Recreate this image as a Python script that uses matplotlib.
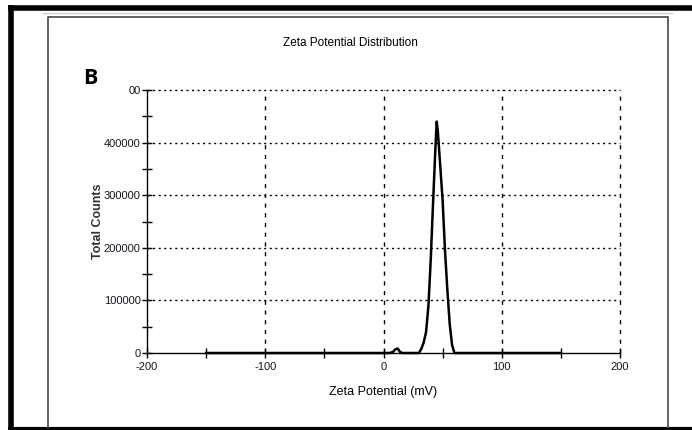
"""Zeta potential distribution (panel B)"""

import matplotlib.pyplot as plt
from matplotlib.lines import Line2D
from matplotlib.ticker import MultipleLocator
import numpy as np

# values
zeta_mv = [-150, 5, 8, 10, 12, 14, 16, 30, 32, 34, 36, 38, 40, 42, 44, 45,
           46, 48, 50, 52, 54, 56, 58, 60, 150]
counts = [0, 0, 2000, 7000, 8500, 2000, 0, 0, 8000, 20000, 40000, 90000,
          180000, 290000, 395000, 440000, 420000, 355000, 290000, 195000,
          120000, 55000, 15000, 0, 0]
x_ticks = [-200, -100, 0, 100, 200]
y_ticks = [0, 100000, 200000, 300000, 400000, 500000]
y_tick_labels = ["0", "100000", "200000", "300000", "400000", "00"]

narrow = ["Liberation Sans Narrow", "Liberation Sans", "DejaVu Sans"]
W, H = 692, 430

fig = plt.figure(figsize=(W / 100, H / 100), dpi=100)
ax = fig.add_axes([147 / W, 1 - 353 / H, (620 - 147) / W, (353 - 90) / H])

ax.plot(zeta_mv, counts, color="black", lw=1.8, clip_on=False, zorder=5)

ax.set_xlim(-200, 200)
ax.set_ylim(0, 500000)
ax.set_xticks(x_ticks)
ax.set_xticklabels([str(v) for v in x_ticks], family=narrow, fontsize=8)
ax.set_yticks(y_ticks)
ax.set_yticklabels(y_tick_labels, family=narrow, fontsize=8)
ax.xaxis.set_minor_locator(MultipleLocator(50))
ax.yaxis.set_minor_locator(MultipleLocator(50000))
ax.tick_params(which="both", direction="inout", length=7, width=1,
               color="black", labelcolor="#151525")
ax.tick_params(axis="x", pad=3)
ax.tick_params(axis="y", pad=1)

for s in ["top", "right"]:
    ax.spines[s].set_visible(False)
for s in ["left", "bottom"]:
    ax.spines[s].set_linewidth(1.0)

for v in x_ticks[1:]:
    ax.axvline(v, color="black", lw=1.0, ls=(0, (3, 4)), zorder=1,
               clip_on=False)
for v in y_ticks[1:]:
    ax.axhline(v, color="black", lw=1.0, ls=(0, (1.5, 2.5)), zorder=1,
               clip_on=False)

ax.set_xlabel("Zeta Potential (mV)", family=narrow, fontsize=9, labelpad=10)
ax.set_ylabel("Total Counts", family=narrow, fontsize=9, fontweight="bold",
              color="#333", labelpad=0)
fig.text(350 / W, 1 - 43 / H, "Zeta Potential Distribution", family=narrow,
         fontsize=8.5, ha="center", va="center")
fig.text(90 / W, 1 - 78 / H, "B", fontsize=15.5, fontweight="bold",
         family=["Open Sans", "DejaVu Sans"], ha="center", va="center")


def fline(xs, ys, **kw):
    fig.add_artist(Line2D([x / W for x in xs], [1 - y / H for y in ys],
                          transform=fig.transFigure, **kw))


# outer black frame
fline([10.5, 10.5], [5, 430], color="black", lw=4, solid_capstyle="butt")
fline([8, 692], [7.5, 7.5], color="black", lw=4, solid_capstyle="butt")
fline([8, 692], [428.5, 428.5], color="black", lw=3, solid_capstyle="butt")
# inner grey frame
fline([43, 672], [12.5, 12.5], color="#cccccc", lw=1.0)
fline([47.5, 47.5, 668, 668], [427, 17, 17, 427], color="#555555", lw=1.3)

fig.savefig("out.png", dpi=100)
